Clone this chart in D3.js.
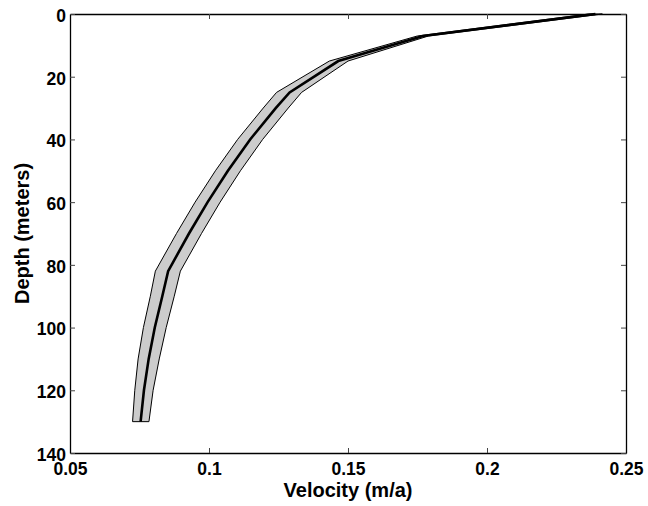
<!DOCTYPE html>
<html><head><meta charset="utf-8">
<script src="https://cdn.jsdelivr.net/npm/d3@7"></script>
<style>body{margin:0;background:#fff}svg{display:block}text{font-family:"Liberation Sans",Arial,sans-serif;font-weight:bold}</style>
</head><body>
<svg id="c" width="648" height="506"></svg>
<script>
const depths = [0, 7, 15, 25, 30, 40, 50, 60, 70, 82, 90, 100, 110, 120, 130];
const velMean = [0.2390, 0.1770, 0.1465, 0.1290, 0.1240, 0.1148, 0.1068, 0.0995, 0.0928, 0.0853, 0.0832, 0.0805, 0.0783, 0.0766, 0.0754];
const velLow  = [0.2365, 0.1750, 0.1433, 0.1243, 0.1195, 0.1103, 0.1023, 0.0950, 0.0883, 0.0807, 0.0789, 0.0764, 0.0745, 0.0733, 0.0725];
const velHigh = [0.2415, 0.1790, 0.1500, 0.1333, 0.1285, 0.1193, 0.1113, 0.1040, 0.0973, 0.0897, 0.0875, 0.0846, 0.0821, 0.0799, 0.0784];
const xTicks = [0.05, 0.1, 0.15, 0.2, 0.25];
const xTickLabels = ["0.05", "0.1", "0.15", "0.2", "0.25"];
const yTicks = [0, 20, 40, 60, 80, 100, 120, 140];
const xTitle = "Velocity (m/a)";
const yTitle = "Depth (meters)";

const svg = d3.select("#c");
const L = 70, R = 626, T = 14, B = 453;
const x = d3.scaleLinear().domain([0.05, 0.25]).range([L, R]);
const y = d3.scaleLinear().domain([0, 140]).range([T, B]);

// band polygon
const band = depths.map((d, i) => [x(velLow[i]), y(d)])
  .concat(depths.map((d, i) => [x(velHigh[i]), y(d)]).reverse());
svg.append("path")
  .attr("d", d3.line()(band) + "Z")
  .attr("fill", "#cccccc").attr("stroke", "#000").attr("stroke-width", 1)
  .attr("stroke-linejoin", "miter");

svg.append("path")
  .attr("d", d3.line()(depths.map((d, i) => [x(velMean[i]), y(d)])))
  .attr("fill", "none").attr("stroke", "#000").attr("stroke-width", 2.6);

// axes (ticks inside, box)
const tk = 5;
const axB = svg.append("g").attr("transform", `translate(0,${B})`)
  .call(d3.axisBottom(x).tickValues(xTicks).tickSizeInner(-tk).tickSizeOuter(0).tickPadding(10)
    .tickFormat((d, i) => xTickLabels[i]));
const axT = svg.append("g").attr("transform", `translate(0,${T})`)
  .call(d3.axisTop(x).tickValues(xTicks).tickSizeInner(-tk).tickSizeOuter(0).tickFormat(""));
const axL = svg.append("g").attr("transform", `translate(${L},0)`)
  .call(d3.axisLeft(y).tickValues(yTicks).tickSizeInner(-tk).tickSizeOuter(0).tickPadding(4)
    .tickFormat(d3.format("d")));
const axR = svg.append("g").attr("transform", `translate(${R},0)`)
  .call(d3.axisRight(y).tickValues(yTicks).tickSizeInner(-tk).tickSizeOuter(0).tickFormat(""));
[axB, axT, axL, axR].forEach(a => {
  a.select(".domain").attr("stroke", "#000").attr("stroke-width", 1.3);
  a.selectAll(".tick line").attr("stroke", "#444").attr("stroke-width", 1);
  a.selectAll("text").attr("font-size", 17.5).attr("fill", "#000")
    .attr("font-family", "'Liberation Sans', Arial, sans-serif").attr("font-weight", "bold");
});
axL.selectAll("text").attr("dy", "0.42em");

svg.append("text").attr("x", (L + R) / 2).attr("y", 497).attr("text-anchor", "middle")
  .attr("font-size", 20).text(xTitle);
svg.append("text").attr("transform", `translate(29,${(T + B) / 2}) rotate(-90)`)
  .attr("text-anchor", "middle").attr("font-size", 20).text(yTitle);
</script>
</body></html>
